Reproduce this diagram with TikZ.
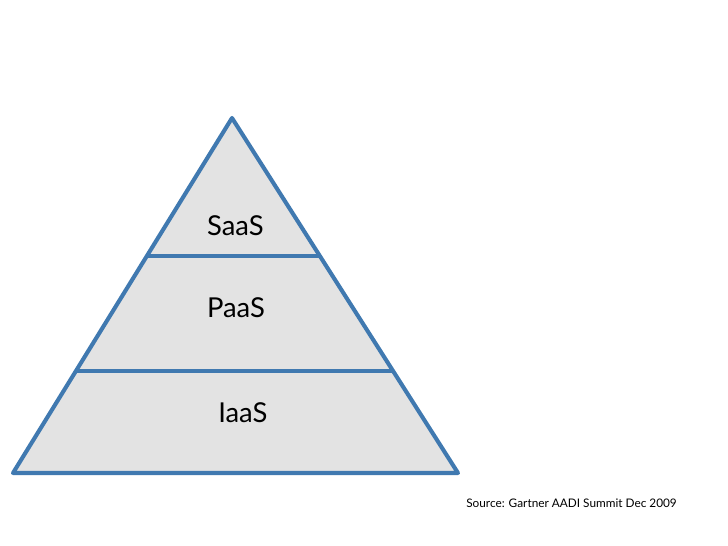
\documentclass[tikz,border=0pt]{standalone}
\usepackage{fontspec}
\setmainfont{Lato}
\usetikzlibrary{calc}
\definecolor{tierblue}{RGB}{64,121,176}
\definecolor{tiergray}{RGB}{227,227,227}
\tikzset{
    pyramid/.style={draw=tierblue, fill=tiergray, line width=2.9pt, line join=round},
    divider/.style={draw=tierblue, line width=2.2pt},
    tier/.style={font=\fontsize{19.5}{24}\selectfont, anchor=west, inner sep=0pt},
    source/.style={font=\fontsize{8.4}{10}\selectfont, anchor=west, inner sep=0pt},
}

\begin{document}
\begin{tikzpicture}
    \path[use as bounding box] (0,0) rectangle (18.2,13.65);

    \coordinate (apex) at (5.8,10.7);
    \coordinate (baseleft) at (0.325,1.825);
    \coordinate (baseright) at (11.45,1.825);

    \draw[pyramid] (apex) -- (baseright) -- (baseleft) -- cycle;

    % tier boundaries
    \coordinate (upperleft) at ($(apex)!0.3887!(baseleft)$);
    \coordinate (upperright) at ($(apex)!0.3887!(baseright)$);
    \coordinate (lowerleft) at ($(apex)!0.7127!(baseleft)$);
    \coordinate (lowerright) at ($(apex)!0.7127!(baseright)$);
    \draw[divider] (upperleft) -- (upperright);
    \draw[divider] (lowerleft) -- (lowerright);

    \node[tier] (saas) at (5.17,8.0) {SaaS};
    \node[tier] (paas) at (5.17,5.95) {PaaS};
    \node[tier] (iaas) at (5.45,3.325) {IaaS};

    \node[source] (credit) at (11.65,1.075) {Source: Gartner AADI Summit Dec 2009};
\end{tikzpicture}
\end{document}
